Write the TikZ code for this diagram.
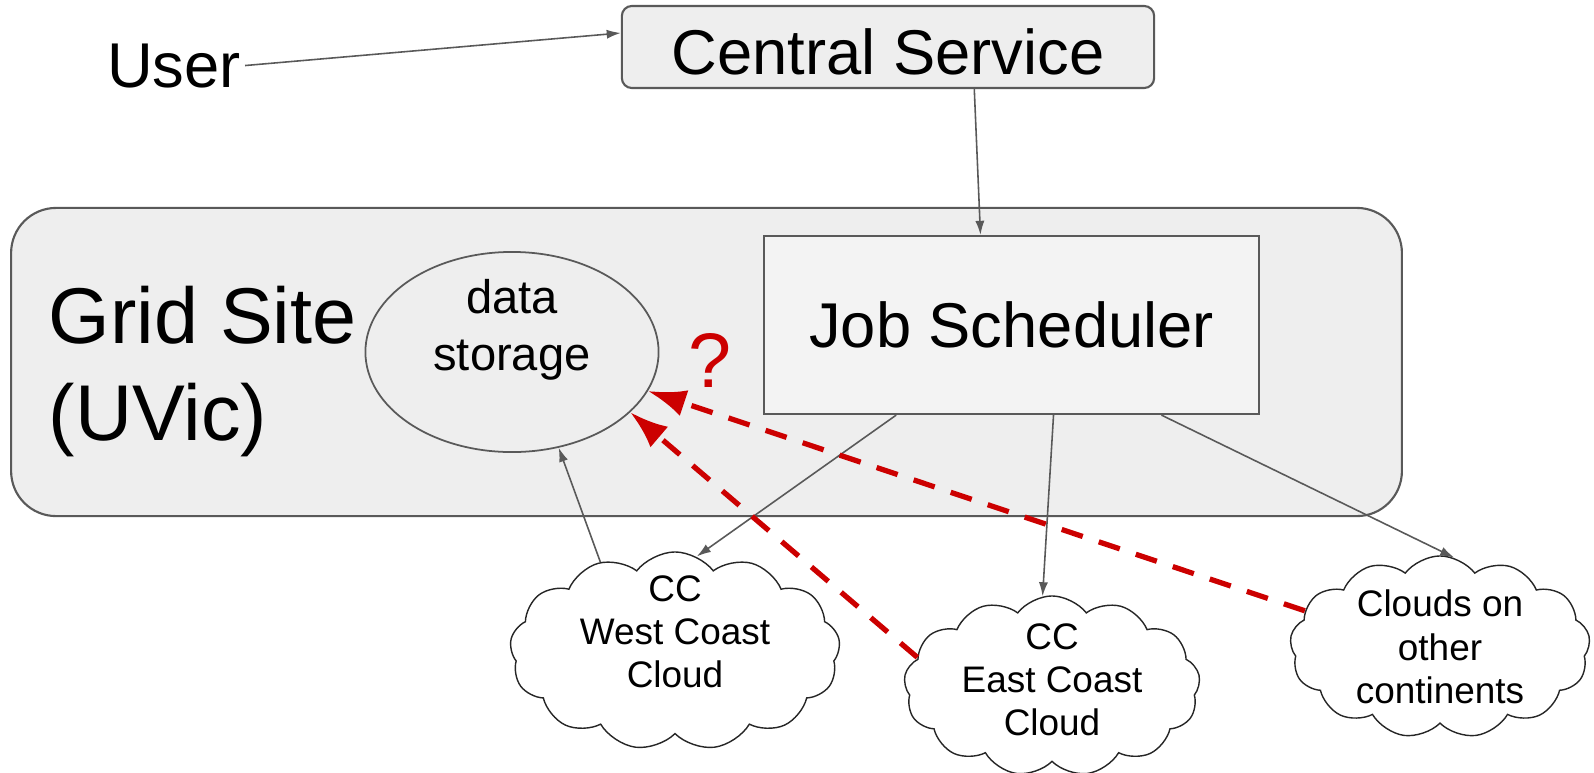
\documentclass[tikz,border=0pt]{standalone}
\usepackage{fontspec}
\setmainfont{Liberation Sans}
\usetikzlibrary{shapes.geometric, shapes.symbols, arrows.meta}

\definecolor{linegray}{HTML}{595959}
\definecolor{sitegray}{HTML}{EEEEEE}
\definecolor{jobgray}{HTML}{F3F3F3}
\definecolor{alertred}{HTML}{CC0000}

\begin{document}
\begin{tikzpicture}[x=0.01cm, y=-0.01cm,
          site/.style={draw=linegray, fill=sitegray, line width=0.6pt, rounded corners=0.45cm, minimum width=13.9cm, minimum height=3.08cm},
          box/.style={draw=linegray, line width=0.6pt, inner sep=0pt, align=center, font=\fontsize{18}{21.6}\selectfont},
          store/.style={ellipse, draw=linegray, fill=sitegray, line width=0.5pt, minimum width=2.93cm, minimum height=2cm, inner sep=-4pt, align=center, font=\fontsize{13.4}{16.2}\selectfont},
          sky/.style={cloud, cloud puffs=13, cloud puff arc=105, cloud ignores aspect, draw=black!85, fill=white, line width=0.4pt, inner sep=-12pt, align=center, font=\fontsize{10.5}{12.3}\selectfont},
          arrow/.style={-{Latex[length=4pt, width=2.6pt]}, draw=linegray, line width=0.45pt},
          alert/.style={-{Latex[length=10.8pt, width=7.7pt]}, draw=alertred, line width=1.5pt, dash pattern=on 6.3pt off 4.8pt}
        ]
          \useasboundingbox (0,0) rectangle (1594,772);

          % Grid site frame
          \node[site] (site) at (706.5,362) {};
          \node[anchor=west, inner sep=0pt, align=left, font=\fontsize{22.5}{27.6}\selectfont] (sitename) at (48,371.5) {Grid Site\\(UVic)};

          % Inside the site
          \node[store, text depth=15.6pt] (storage) at (512,352) {data\\storage};
          \node[box, fill=jobgray, minimum width=4.95cm, minimum height=1.78cm] (scheduler) at (1011.5,325) {Job Scheduler};

          % Top row
          \node[box, fill=sitegray, rounded corners=0.1cm, minimum width=5.32cm, minimum height=0.82cm, text height=15.9pt] (central) at (888,47) {Central Service};
          \node[anchor=base, inner sep=1pt, font=\fontsize{18}{21.6}\selectfont] (user) at (174,87) {User};

          % Clouds
          \node[sky, minimum width=3.3cm, minimum height=1.98cm, text depth=11pt] (westcloud) at (675,651) {CC\\West Coast\\Cloud};
          \node[sky, minimum width=2.96cm, minimum height=1.8cm, text depth=3.7pt] (eastcloud) at (1052,686) {CC\\East Coast\\Cloud};
          \node[sky, minimum width=3.0cm, minimum height=1.82cm] (farclouds) at (1440,647) {Clouds on\\other\\continents};

          % Job flow
          \draw[arrow] (user.east) -- (central.177);
          \draw[arrow] (central.-26) -- (scheduler.109);
          \draw[arrow] (scheduler.-142) -- (westcloud.77);
          \draw[arrow] (scheduler.-65) -- (eastcloud.96);
          \draw[arrow] (scheduler.-31) -- (farclouds.81);
          \draw[arrow] (westcloud.130) -- (storage.-64);

          % Remote data access, open question
          \draw[alert] (eastcloud.168) -- (storage.-27);
          \draw[alert] (farclouds.165) -- (storage.-16);
          \node[text=alertred, font=\fontsize{22}{26}\selectfont] (query) at (710,360) {?};

        \end{tikzpicture}
\end{document}
